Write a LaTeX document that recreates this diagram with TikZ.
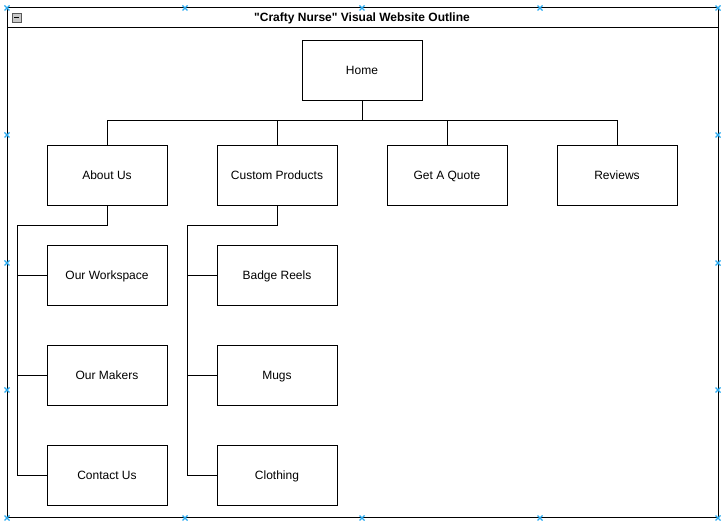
\documentclass[tikz,border=0pt]{standalone}
\usepackage{fontspec}
\setmainfont{Liberation Sans}
\definecolor{handle}{RGB}{41,170,240}
\definecolor{btnfill}{RGB}{200,200,200}
\begin{document}
\begin{tikzpicture}[x=1pt,y=-1pt,
  pagebox/.style={draw=black,line width=1pt,minimum width=120pt,minimum height=60pt,inner sep=0pt,text height=9pt,text depth=2.5pt,font=\fontsize{12}{14}\selectfont},
  conn/.style={draw=black,line width=1pt},
  frame/.style={draw=black,line width=1pt},
  hmark/.style={draw=handle,line width=1.2pt}]
\useasboundingbox (0,0) rectangle (726,526);
% outer container
\draw[frame] (7,8) rectangle (718,518);
\draw[frame] (7,28) -- (718,28);
\node[font=\bfseries\fontsize{12}{14}\selectfont,inner sep=0pt,text height=9pt,text depth=2.5pt] (title) at (362,18) {\textquotedbl Crafty Nurse\textquotedbl{} Visual Website Outline};
% collapse button
\draw[draw=gray!70!black,fill=btnfill,line width=0.6pt] (12,13) rectangle (21,22);
\draw[line width=1.2pt] (14,17.5) -- (19,17.5);
% nodes
\node[pagebox] (home) at (362,71) {Home};
\node[pagebox] (about) at (107,176) {About Us};
\node[pagebox] (custom) at (277,176) {Custom Products};
\node[pagebox] (quote) at (447,176) {Get A Quote};
\node[pagebox] (reviews) at (617,176) {Reviews};
\node[pagebox] (work) at (107,276) {Our Workspace};
\node[pagebox] (makers) at (107,376) {Our Makers};
\node[pagebox] (contact) at (107,476) {Contact Us};
\node[pagebox] (badge) at (277,276) {Badge Reels};
\node[pagebox] (mugs) at (277,376) {Mugs};
\node[pagebox] (cloth) at (277,476) {Clothing};
% connectors
\coordinate (bus) at (362,121);
\draw[conn] (home.south) -- (bus) -| (about.north);
\draw[conn] (bus) -| (custom.north);
\draw[conn] (bus) -| (quote.north);
\draw[conn] (bus) -| (reviews.north);
\coordinate (ab) at (107,226);
\coordinate (al) at (17,226);
\draw[conn] (about.south) -- (ab) -- (al) |- (work.west);
\draw[conn] (al) |- (makers.west);
\draw[conn] (al) |- (contact.west);
\coordinate (cb) at (277,226);
\coordinate (cl) at (187,226);
\draw[conn] (custom.south) -- (cb) -- (cl) |- (badge.west);
\draw[conn] (cl) |- (mugs.west);
\draw[conn] (cl) |- (cloth.west);
% selection handles
\foreach \hx/\hy in {7/8,185/8,362/8,540/8,718/8,7/135,718/135,7/263,718/263,7/390,718/390,7/518,185/518,362/518,540/518,718/518}{
  \draw[hmark] (\hx-2.5,\hy-2.5) -- (\hx+2.5,\hy+2.5) (\hx-2.5,\hy+2.5) -- (\hx+2.5,\hy-2.5);
}
\end{tikzpicture}
\end{document}
